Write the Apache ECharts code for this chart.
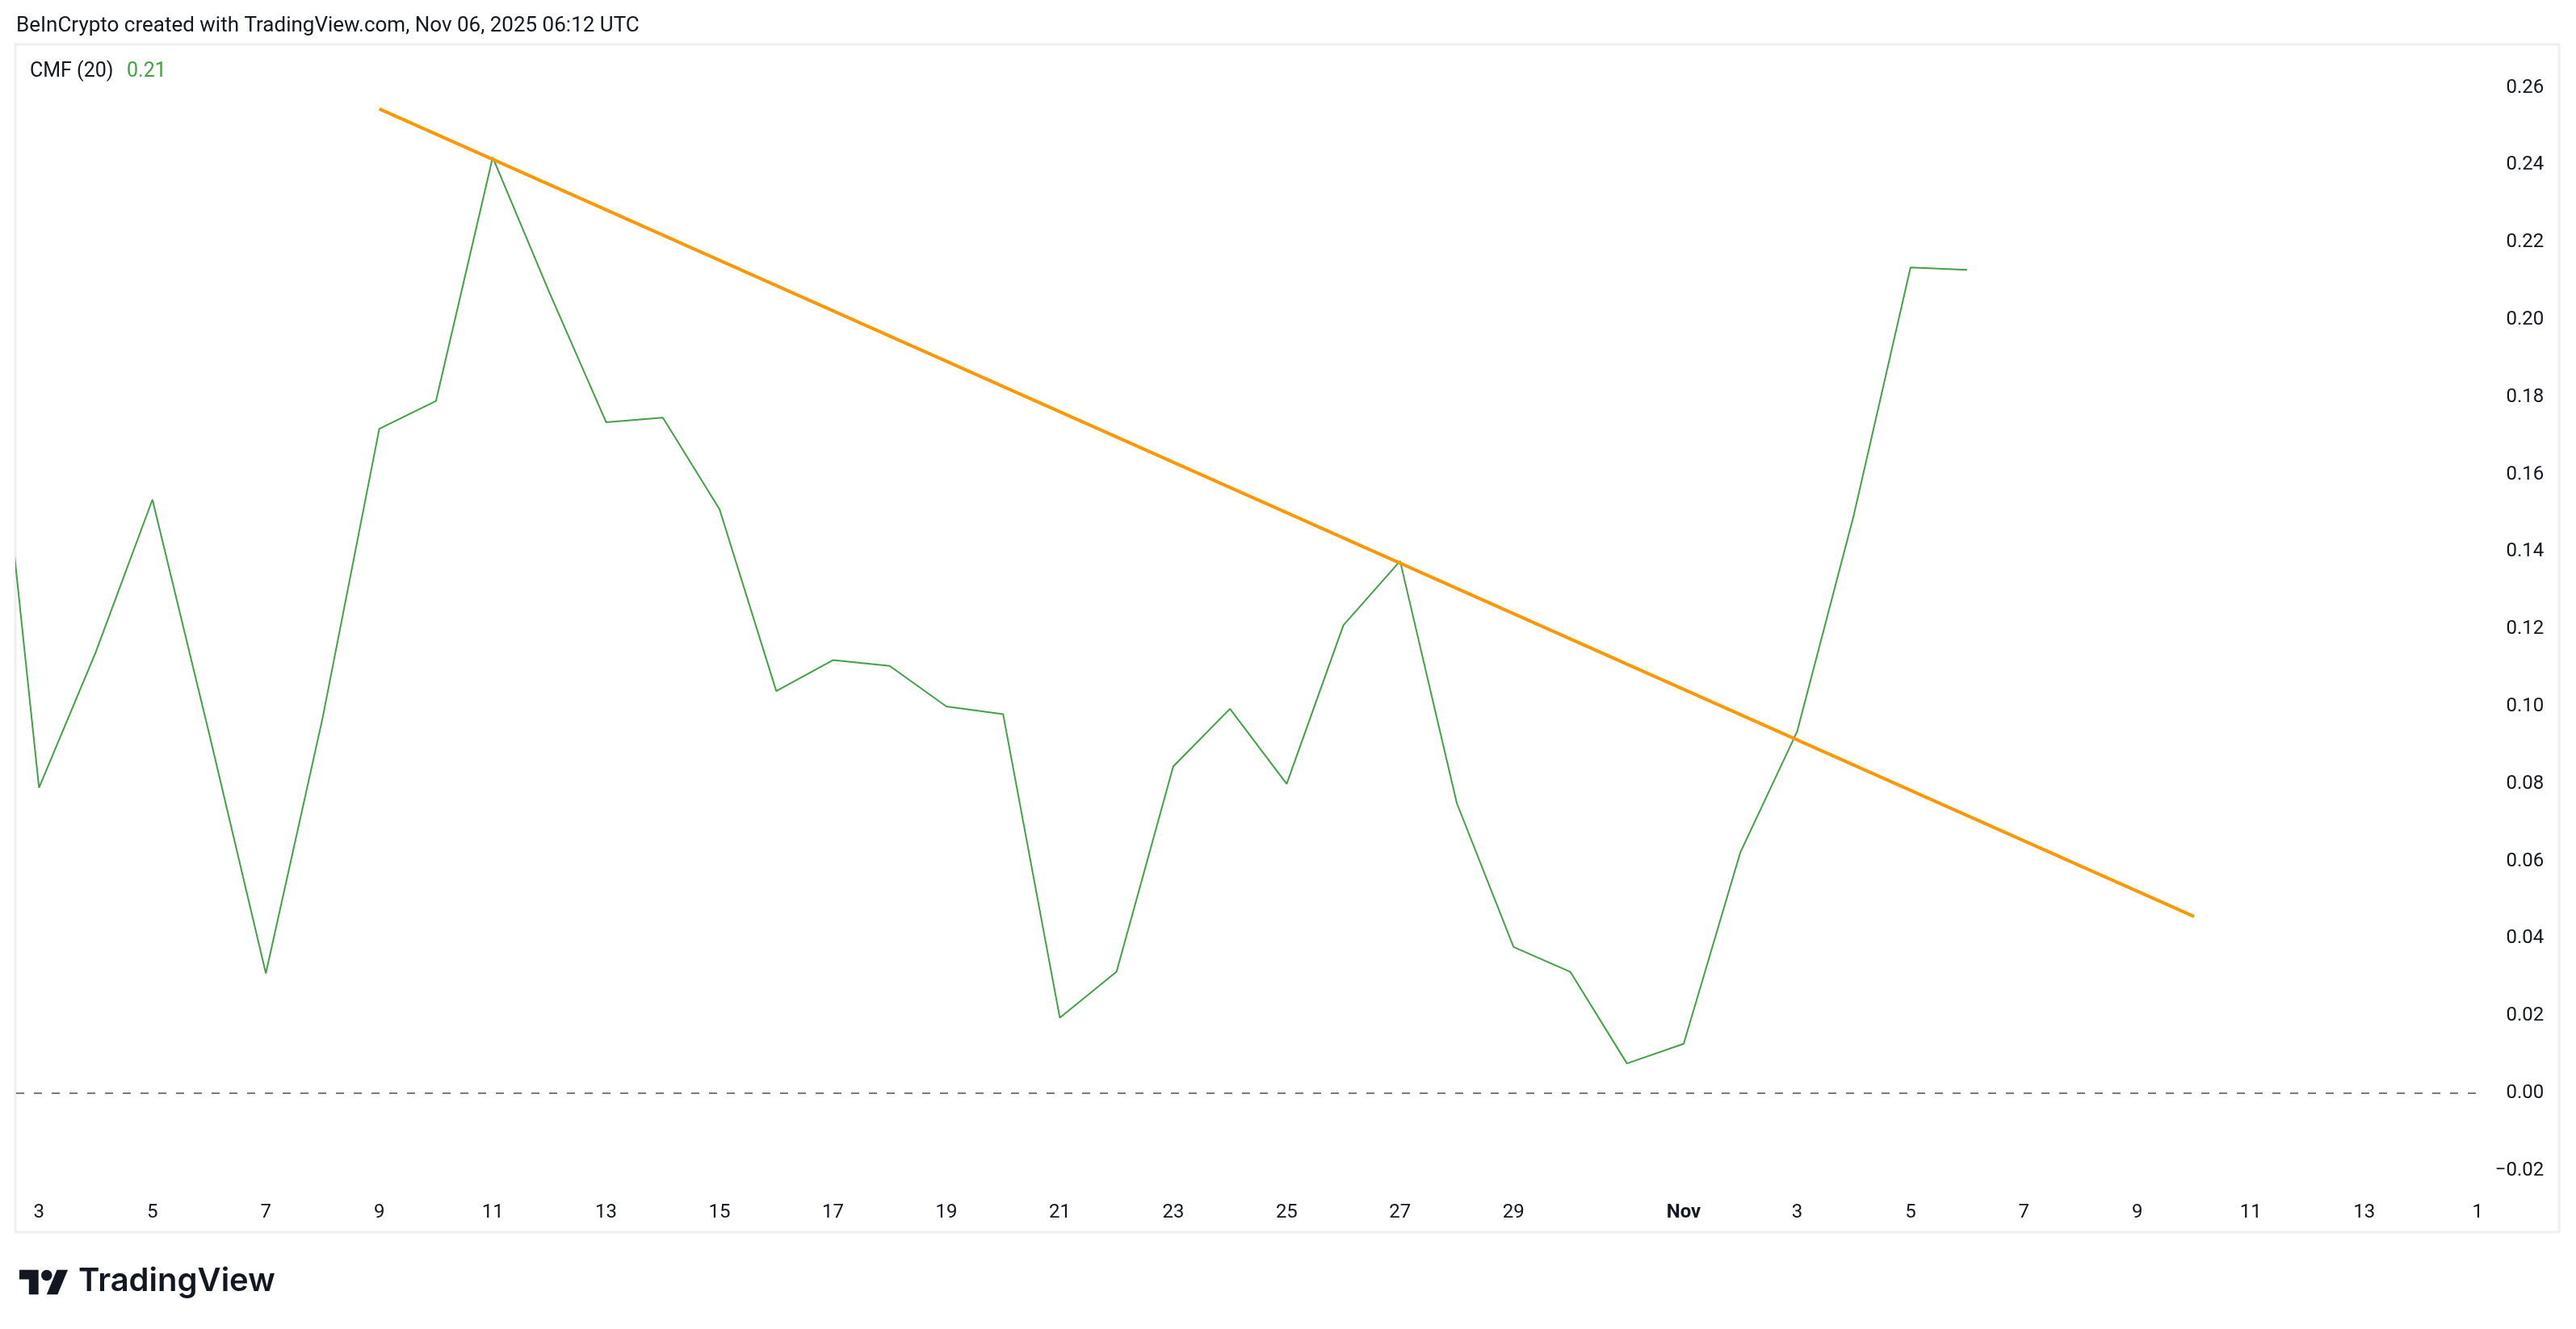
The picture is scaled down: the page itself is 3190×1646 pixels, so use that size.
<!DOCTYPE html>
<html>
<head>
<meta charset="utf-8">
<script src="https://cdn.jsdelivr.net/npm/echarts@6/dist/echarts.min.js"></script>
<style>
html,body{margin:0;padding:0;background:#fff;}
#c{width:3190px;height:1646px;}
</style>
</head>
<body>
<div id="c"></div>
<script>
// ---- data ----
const cmfDates = ['2025-10-02','2025-10-03','2025-10-04','2025-10-05','2025-10-06','2025-10-07','2025-10-08','2025-10-09','2025-10-10','2025-10-11','2025-10-12','2025-10-13','2025-10-14','2025-10-15','2025-10-16','2025-10-17','2025-10-18','2025-10-19','2025-10-20','2025-10-21','2025-10-22','2025-10-23','2025-10-24','2025-10-25','2025-10-26','2025-10-27','2025-10-28','2025-10-29','2025-10-30','2025-10-31','2025-11-01','2025-11-02','2025-11-03','2025-11-04','2025-11-05','2025-11-06'];
const cmfValues = [0.218,0.079,0.114,0.1535,0.093,0.031,0.097,0.1718,0.179,0.242,0.207,0.1735,0.1747,0.151,0.104,0.112,0.1105,0.100,0.098,0.0195,0.0314,0.0845,0.0994,0.080,0.121,0.1376,0.075,0.0378,0.0314,0.0077,0.0128,0.0623,0.0935,0.1495,0.2135,0.2129];
const trendDates = ['2025-10-09','2025-11-10'];
const trendValues = [0.2545,0.0457];
const xTickDates = ['2025-10-03','2025-10-05','2025-10-07','2025-10-09','2025-10-11','2025-10-13','2025-10-15','2025-10-17','2025-10-19','2025-10-21','2025-10-23','2025-10-25','2025-10-27','2025-10-29','2025-11-01','2025-11-03','2025-11-05','2025-11-07','2025-11-09','2025-11-11','2025-11-13','2025-11-15'];
const xTickLabels = ['3','5','7','9','11','13','15','17','19','21','23','25','27','29','Nov','3','5','7','9','11','13','1'];
const yTicks = [-0.02,0,0.02,0.04,0.06,0.08,0.10,0.12,0.14,0.16,0.18,0.20,0.22,0.24,0.26];
const headerText = 'BeInCrypto created with TradingView.com, Nov 06, 2025 06:12 UTC';
const legendName = 'CMF (20)';
const legendValue = '0.21';

// ---- helpers ----
function dayIndex(s){
  const p = s.split('-').map(Number);
  return (Date.UTC(p[0],p[1]-1,p[2]) - Date.UTC(2025,8,30)) / 86400000;
}
const tickPos = xTickDates.map(dayIndex);
const labelMap = {};
tickPos.forEach((d,i)=>{ labelMap[d] = xTickLabels[i]; });

const FONT = 'Roboto, "Noto Sans", sans-serif';
const TXT = '#131722';
const GREEN = '#43a047';
const ORANGE = '#ff9800';

const chart = echarts.init(document.getElementById('c'), null, {renderer:'canvas'});

// TradingView logo geometry (36x28 viewBox)
const LS = 1.69, LX = 24, LY = 1566;

chart.setOption({
  backgroundColor:'#ffffff',
  animation:false,
  grid:{left:20, top:108.6, width:3048.2, height:1341.2, containLabel:false, outerBoundsMode:'none'},
  xAxis:{
    type:'value', min:2.597, max:46,
    axisLine:{show:false}, axisTick:{show:false}, splitLine:{show:false},
    axisLabel:{
      customValues: tickPos,
      margin:40, fontSize:24, fontFamily:FONT, color:TXT,
      formatter:function(v){
        const key = Math.round(v);
        const t = labelMap[key];
        if (t === 'Nov') return '{b|Nov}';
        return t === undefined ? '' : t;
      },
      rich:{ b:{fontWeight:'bold', fontSize:24, fontFamily:FONT, color:TXT} }
    }
  },
  yAxis:{
    type:'value', position:'right', min:-0.02, max:0.26,
    axisLine:{show:false}, axisTick:{show:false}, splitLine:{show:false},
    axisLabel:{
      customValues: yTicks,
      align:'right', margin:82, fontSize:24, fontFamily:FONT, color:TXT,
      formatter:function(v){ return (v < -1e-9 ? '\u2212' : '') + Math.abs(v).toFixed(2); }
    }
  },
  series:[
    {
      type:'line', name:'CMF',
      data: cmfDates.map((d,i)=>[dayIndex(d), cmfValues[i]]),
      showSymbol:false, symbol:'none',
      lineStyle:{color:GREEN, width:2},
      clip:true, z:3,
      markLine:{
        silent:true, symbol:['none','none'],
        label:{show:false},
        lineStyle:{color:'#787b86', width:2, type:[10,12]},
        data:[{yAxis:0}],
        animation:false
      }
    },
    {
      type:'line', name:'Trend',
      data: trendDates.map((d,i)=>[dayIndex(d), trendValues[i]]),
      showSymbol:false, symbol:'none',
      lineStyle:{color:ORANGE, width:4},
      clip:true, z:4
    }
  ],
  graphic:[
    {type:'rect', shape:{x:19, y:55, width:3150, height:1471}, style:{fill:'none', stroke:'#efefef', lineWidth:3}, z:-1, silent:true},
    {type:'text', left:20, top:19, style:{text:headerText, fontSize:26, fontFamily:FONT, fill:TXT}},
    {type:'text', left:37, top:76, style:{text:legendName, fontSize:25, fontFamily:FONT, fill:TXT}},
    {type:'text', left:157, top:76, style:{text:legendValue, fontSize:25, fontFamily:FONT, fill:GREEN}},
    {type:'group', x:LX, y:LY, scaleX:LS, scaleY:LS, children:[
      {type:'polygon', shape:{points:[[0,4],[14,4],[14,22],[7,22],[7,11],[0,11]]}, style:{fill:'#131722'}},
      {type:'circle', shape:{cx:20, cy:8, r:4}, style:{fill:'#131722'}},
      {type:'polygon', shape:{points:[[20,22],[27.5,4],[35.5,4],[28,22]]}, style:{fill:'#131722'}}
    ]},
    {type:'text', left:97, top:1567, style:{text:'TradingView', fontSize:40, fontWeight:600, fontFamily:'Inter, Roboto, sans-serif', fill:'#131722'}}
  ]
});
</script>
</body>
</html>
